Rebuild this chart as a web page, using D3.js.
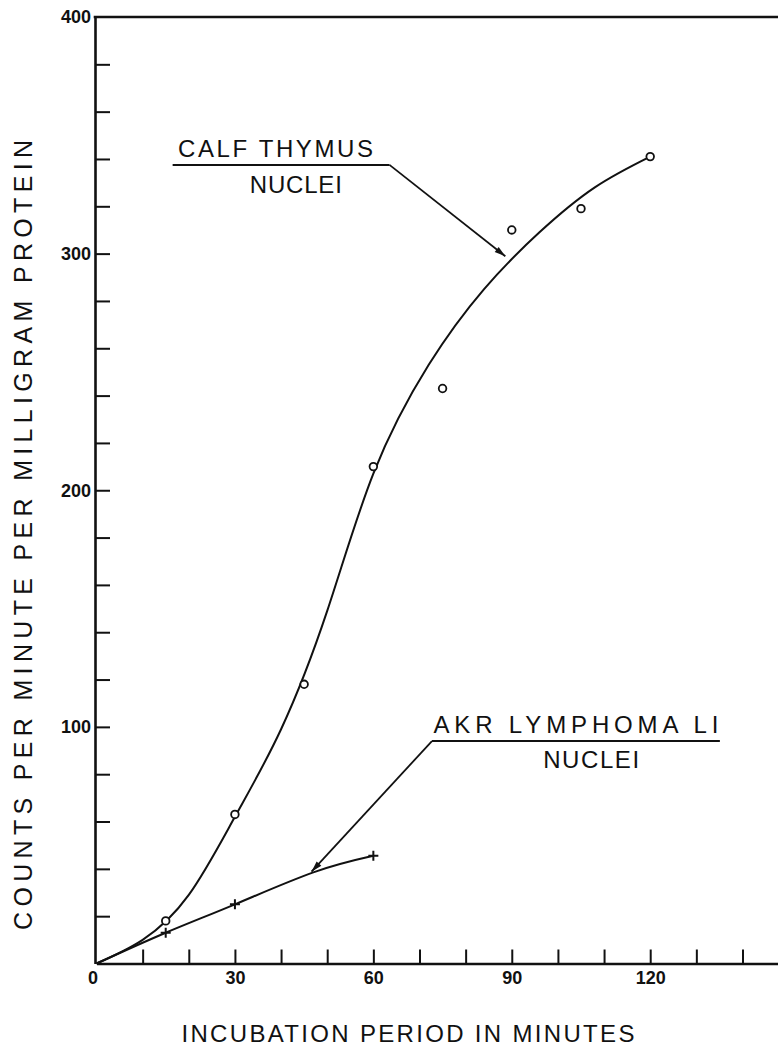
<!DOCTYPE html>
<html>
<head>
<meta charset="utf-8">
<script src="https://cdn.jsdelivr.net/npm/d3@7"></script>
<style>
  html, body { margin: 0; padding: 0; background: #fff; }
  svg { display: block; }
  text { font-family: "Liberation Sans", Arial, "Helvetica", sans-serif; fill: #111; }
</style>
</head>
<body>
<script>
// Calf thymus nuclei: measured counts per minute per mg protein
const calfMinutes = [15, 30, 45, 60, 75, 90, 105, 120];
const calfCounts  = [18, 63, 118, 210, 243, 310, 319, 341];

// Smoothed curve drawn through the calf thymus results
const calfCurveMinutes = [0, 10, 20, 30, 40, 50, 60, 72, 84, 96, 108, 120];
const calfCurveCounts  = [0, 10, 29, 62, 99, 149, 207, 253, 285, 309, 328, 341];

// AKR lymphoma LI nuclei: measured counts
const akrMinutes = [15, 30, 60];
const akrCounts  = [13, 25, 45.5];

// Smoothed curve drawn through the AKR lymphoma results
const akrCurveMinutes = [0, 15, 30, 47, 60];
const akrCurveCounts  = [0, 13, 25, 38.5, 45.5];

// Axis ticks and labels
const xTickMinutes = [10, 20, 30, 40, 50, 60, 70, 80, 90, 100, 110, 120, 130, 140];
const xLabelMinutes = [0, 30, 60, 90, 120];
const yTickCounts = [20, 40, 60, 80, 100, 120, 140, 160, 180, 200, 220, 240, 260, 280, 300, 320, 340, 360, 380];
const yLabelCounts = [100, 200, 300, 400];

const xTitle = "INCUBATION  PERIOD IN  MINUTES";
const yTitle = "COUNTS  PER  MINUTE  PER  MILLIGRAM  PROTEIN";

const W = 778, H = 1048;
const svg = d3.select("body").append("svg")
  .attr("width", W).attr("height", H)
  .attr("viewBox", `0 0 ${W} ${H}`);

const x = d3.scaleLinear().domain([0, 148]).range([96.5, 779.4]);
const y = d3.scaleLinear().domain([0, 400]).range([963.5, 17]);

const ink = "#111";

// ---- x axis (ticks point inward, labels every 30 minutes)
const xAxis = svg.append("g")
  .attr("transform", `translate(0,${y(0)})`)
  .call(d3.axisBottom(x).tickValues(xTickMinutes).tickSizeInner(-14).tickSizeOuter(0).tickFormat(""));
xAxis.select(".domain").attr("stroke", ink).attr("stroke-width", 2.6);
xAxis.selectAll(".tick line").attr("stroke", ink).attr("stroke-width", 2);

const xLab = svg.append("g")
  .attr("transform", `translate(0,${y(0)})`)
  .call(d3.axisBottom(x).tickValues(xLabelMinutes).tickSize(0).tickPadding(8).tickFormat(d3.format("d")));
xLab.select(".domain").remove();
xLab.selectAll("text").attr("font-size", 18).attr("fill", ink)
  .attr("font-family", "'Liberation Sans', Arial, sans-serif").attr("font-weight", "bold");
xLab.selectAll(".tick").filter(d => d === 0).select("text").attr("dx", -4);

// ---- y axis
const yAxis = svg.append("g")
  .attr("transform", `translate(${x(0) - 1.5},0)`)
  .call(d3.axisLeft(y).tickValues(yTickCounts).tickSizeInner(-15).tickSizeOuter(0).tickFormat(""));
yAxis.select(".domain").attr("stroke", ink).attr("stroke-width", 2.6);
yAxis.selectAll(".tick line").attr("stroke", ink).attr("stroke-width", 2);

const yLab = svg.append("g")
  .attr("transform", `translate(${x(0) - 1.5},0)`)
  .call(d3.axisLeft(y).tickValues(yLabelCounts).tickSize(0).tickPadding(4).tickFormat(d3.format("d")));
yLab.select(".domain").remove();
yLab.selectAll("text").attr("font-size", 18).attr("fill", ink)
  .attr("font-family", "'Liberation Sans', Arial, sans-serif").attr("font-weight", "bold");

// top frame line at 400
svg.append("line")
  .attr("x1", x(0) - 2.8).attr("x2", x(148))
  .attr("y1", y(400)).attr("y2", y(400))
  .attr("stroke", ink).attr("stroke-width", 2.6);

// ---- curves
const line = d3.line().x(d => x(d[0])).y(d => y(d[1])).curve(d3.curveNatural);

svg.append("path")
  .datum(calfCurveMinutes.map((m, i) => [m, calfCurveCounts[i]]))
  .attr("d", line).attr("fill", "none").attr("stroke", ink).attr("stroke-width", 2);

svg.append("path")
  .datum(akrCurveMinutes.map((m, i) => [m, akrCurveCounts[i]]))
  .attr("d", line).attr("fill", "none").attr("stroke", ink).attr("stroke-width", 2);

// ---- markers
svg.append("g").selectAll("circle")
  .data(calfMinutes.map((m, i) => [m, calfCounts[i]]))
  .join("circle")
  .attr("cx", d => x(d[0])).attr("cy", d => y(d[1])).attr("r", 3.8)
  .attr("fill", "#fff").attr("stroke", ink).attr("stroke-width", 1.8);

svg.append("g").selectAll("path")
  .data(akrMinutes.map((m, i) => [m, akrCounts[i]]))
  .join("path")
  .attr("d", d => {
    const cx = x(d[0]), cy = y(d[1]), s = 5;
    return `M${cx - s},${cy}H${cx + s}M${cx},${cy - s}V${cy + s}`;
  })
  .attr("stroke", ink).attr("stroke-width", 2).attr("fill", "none");

// ---- annotation helpers
function arrow(from, tip, back) {
  const x1 = x(from[0]), y1 = y(from[1]), x2 = x(tip[0]), y2 = y(tip[1]);
  svg.append("line").attr("x1", x1).attr("y1", y1).attr("x2", x2).attr("y2", y2)
    .attr("stroke", ink).attr("stroke-width", 1.8);
  const len = Math.hypot(x2 - x1, y2 - y1), ux = (x2 - x1) / len, uy = (y2 - y1) / len;
  const hx = x2 - ux * back, hy = y2 - uy * back;      // head point
  const bx = hx - ux * 11, by = hy - uy * 11;           // head base
  const px = -uy * 3.2, py = ux * 3.2;
  svg.append("path")
    .attr("d", `M${hx},${hy}L${bx + px},${by + py}L${bx - px},${by - py}Z`)
    .attr("fill", ink);
}

function label(lines, underline) {
  svg.append("line")
    .attr("x1", x(underline[0])).attr("x2", x(underline[1]))
    .attr("y1", y(underline[2])).attr("y2", y(underline[2]))
    .attr("stroke", ink).attr("stroke-width", 2);
  lines.forEach(l => {
    svg.append("text")
      .attr("x", x(l.at[0])).attr("y", y(l.at[1]))
      .attr("text-anchor", "middle").attr("font-size", 24)
      .attr("textLength", l.width).attr("lengthAdjust", "spacing")
      .text(l.text);
  });
}

// Calf thymus annotation
label([
  { text: "CALF THYMUS", at: [38.8, 341], width: 195 },
  { text: "NUCLEI", at: [43.2, 325.8], width: 92 }
], [16.5, 63.5, 337.5]);
arrow([63.5, 337.5], [88.6, 298.9], 0);

// AKR lymphoma annotation
label([
  { text: "AKR LYMPHOMA LI", at: [103.9, 97.4], width: 285 },
  { text: "NUCLEI", at: [107.2, 82.6], width: 96 }
], [72.7, 135.1, 94]);
arrow([72.7, 94], [46.6, 38.8], 0);

// ---- axis titles
svg.append("text")
  .attr("x", (x(0) + x(148)) / 2 - 30).attr("y", 1042)
  .attr("text-anchor", "middle").attr("font-size", 24)
  .attr("textLength", 453).attr("lengthAdjust", "spacing")
  .text(xTitle);

svg.append("text")
  .attr("transform", `translate(32,535) rotate(-90)`)
  .attr("text-anchor", "middle").attr("font-size", 25)
  .attr("textLength", 790).attr("lengthAdjust", "spacing")
  .text(yTitle);
</script>
</body>
</html>
